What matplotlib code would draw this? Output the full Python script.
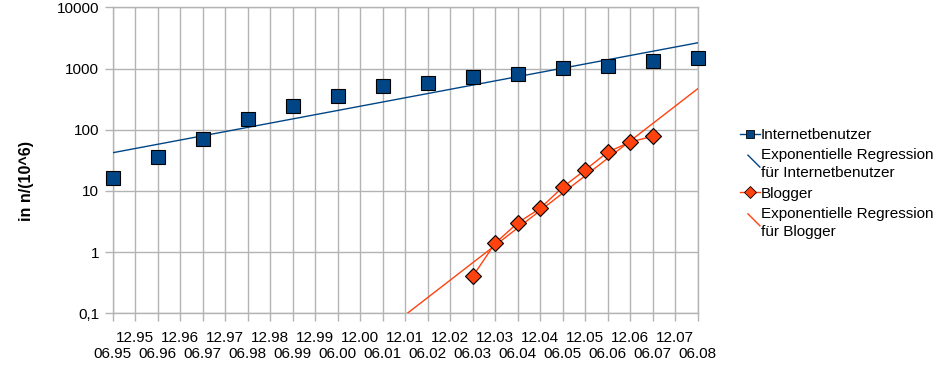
import numpy as np
import matplotlib
matplotlib.use("Agg")
import matplotlib.pyplot as plt
from matplotlib.lines import Line2D
from matplotlib.legend_handler import HandlerBase
from matplotlib.ticker import FixedLocator, FixedFormatter, NullLocator

plt.rcParams['font.family'] = ['Liberation Sans', 'DejaVu Sans']

# ---------------- data ----------------
period_labels = ['06.95', '12.95', '06.96', '12.96', '06.97', '12.97', '06.98', '12.98',
                 '06.99', '12.99', '06.00', '12.00', '06.01', '12.01', '06.02', '12.02',
                 '06.03', '12.03', '06.04', '12.04', '06.05', '12.05', '06.06', '12.06',
                 '06.07', '12.07', '06.08']

internet_dates = ['06.95', '06.96', '06.97', '06.98', '06.99', '06.00', '06.01',
                  '06.02', '06.03', '06.04', '06.05', '06.06', '06.07', '06.08']
internet_users = [16, 36, 70, 147, 248, 361, 513, 587, 719, 817, 1018, 1093, 1319, 1463]

blogger_dates = ['06.03', '12.03', '06.04', '12.04', '06.05', '12.05', '06.06', '12.06', '06.07']
blogger_counts = [0.4, 1.4, 3.0, 5.2, 11.5, 22, 43, 63, 78]

y_ticks = [0.1, 1, 10, 100, 1000, 10000]
y_tick_labels = ['0,1', '1', '10', '100', '1000', '10000']

series_names = ['Internetbenutzer', 'Exponentielle Regression\nfür Internetbenutzer',
                'Blogger', 'Exponentielle Regression\nfür Blogger']

BLUE = '#004586'
ORANGE = '#ff420e'
GRID = '#b3b3b3'
FS = 11

# ---------------- figure ----------------
W, H = 948, 375
fig = plt.figure(figsize=(W / 100, H / 100), dpi=100)
left, right, top, bottom = 112.7, 697.7, 7.3, 313.3
ax = fig.add_axes([left / W, 1 - bottom / H, (right - left) / W, (bottom - top) / H])

xi = np.array([period_labels.index(d) for d in internet_dates], dtype=float)
xb = np.array([period_labels.index(d) for d in blogger_dates], dtype=float)
yi = np.array(internet_users, dtype=float)
yb = np.array(blogger_counts, dtype=float)

xmin, xmax = 0, len(period_labels) - 1

# exponential regressions
ci = np.polyfit(xi, np.log(yi), 1)
cb = np.polyfit(xb, np.log(yb), 1)
xr = np.linspace(xmin, xmax, 200)

ax.plot(xr, np.exp(np.polyval(ci, xr)), color=BLUE, lw=1.0, zorder=3)
ax.plot(xr, np.exp(np.polyval(cb, xr)), color=ORANGE, lw=1.0, zorder=3)

ax.plot(xi, yi, linestyle='none', marker='s', ms=10, mfc=BLUE, mec='black', mew=0.8,
        zorder=5, clip_on=False)
ax.plot(xb, yb, color=ORANGE, lw=1.0, marker='D', ms=8.5, mfc=ORANGE, mec='black', mew=0.8,
        zorder=5, clip_on=False)

ax.set_yscale('log')
ax.set_ylim(0.1, 10000)
ax.set_xlim(xmin, xmax)

ax.yaxis.set_major_locator(FixedLocator(y_ticks))
ax.yaxis.set_major_formatter(FixedFormatter(y_tick_labels))
ax.yaxis.set_minor_locator(NullLocator())

pos = list(range(len(period_labels)))
major_pos = [p for p in pos if period_labels[p].startswith('06')]
minor_pos = [p for p in pos if period_labels[p].startswith('12')]
ax.xaxis.set_major_locator(FixedLocator(major_pos))
ax.xaxis.set_major_formatter(FixedFormatter([period_labels[p] for p in major_pos]))
ax.xaxis.set_minor_locator(FixedLocator(minor_pos))
ax.xaxis.set_minor_formatter(FixedFormatter([period_labels[p] for p in minor_pos]))

ax.grid(True, which='both', axis='x', color=GRID, lw=1.0)
ax.grid(True, which='major', axis='y', color=GRID, lw=1.0)
ax.set_axisbelow(True)
for s in ax.spines.values():
    s.set_color(GRID)
    s.set_linewidth(1.0)

ax.tick_params(axis='both', which='both', direction='out', length=5.8, width=1.0, color=GRID,
               labelsize=FS, labelcolor='black')
ax.tick_params(axis='x', which='minor', pad=6.6)
ax.tick_params(axis='x', which='major', pad=18.8)
ax.tick_params(axis='y', pad=4)

fig.text(27 / W, 1 - 181 / H, 'in n/(10^6)', rotation=90, fontsize=11.5, fontweight='bold',
         ha='center', va='center')

LINESPACING = 1.35
SHIFT = 2.0  # points


# ---------------- legend ----------------
class DiagHandler(HandlerBase):
    def __init__(self, color):
        super().__init__()
        self.color = color

    def create_artists(self, legend, orig_handle, xdescent, ydescent, width, height, fontsize, trans):
        x0 = -xdescent
        base = -ydescent + SHIFT
        size = 0.78 * fontsize
        l = Line2D([x0 + width - size, x0 + width], [base + size, base],
                   color=self.color, lw=1.0, transform=trans)
        return [l]


h_int = Line2D([], [], color=BLUE, lw=1.0, marker='s', ms=6, mfc=BLUE, mec='black', mew=0.6)
h_blog = Line2D([], [], color=ORANGE, lw=1.0, marker='D', ms=6, mfc=ORANGE, mec='black', mew=0.6)
h_ri = Line2D([], [])
h_rb = Line2D([], [])

leg = fig.legend([h_int, h_ri, h_blog, h_rb], series_names,
                 handler_map={h_ri: DiagHandler(BLUE), h_rb: DiagHandler(ORANGE)},
                 loc='upper left', bbox_to_anchor=(740 / W, 1 - 128 / H),
                 frameon=False, fontsize=FS, handlelength=1.3, handletextpad=0.08,
                 labelspacing=0.42, borderpad=0, borderaxespad=0)
for t in leg.get_texts():
    t.set_linespacing(LINESPACING)

fig.savefig('out.png', dpi=100)
